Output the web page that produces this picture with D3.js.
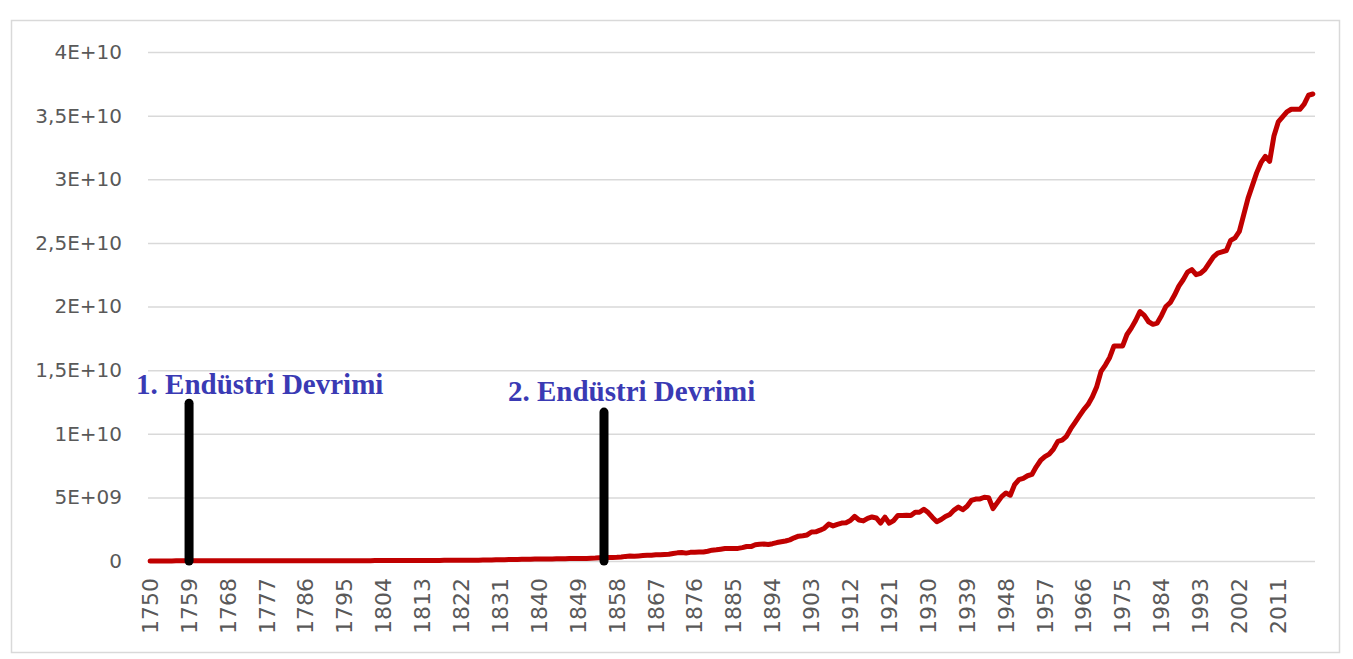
<!DOCTYPE html>
<html>
<head>
<meta charset="utf-8">
<script src="https://cdn.jsdelivr.net/npm/d3@7"></script>
<style>
    body { margin: 0; background: #fff; }
    .tick-label { font-family: "DejaVu Sans", sans-serif; fill: #595959; }
    .note { font-family: "Liberation Serif", "Times New Roman", serif; font-weight: bold; fill: #3a3ab4; }
</style>
</head>
<body>
<div id="chart"></div>
<script>

// yearly CO2 emissions, billion tonnes
let years = d3.range(1750, 2020);

let emissions = [
    0.009, 0.009, 0.009, 0.009, 0.009, 0.009, 0.010, 0.010, 0.010, 0.010,   // 1750
    0.010, 0.010, 0.010, 0.011, 0.011, 0.011, 0.011, 0.012, 0.012, 0.012,   // 1760
    0.013, 0.013, 0.013, 0.014, 0.014, 0.015, 0.015, 0.015, 0.016, 0.016,   // 1770
    0.017, 0.017, 0.018, 0.018, 0.018, 0.019, 0.019, 0.020, 0.020, 0.021,   // 1780
    0.021, 0.022, 0.022, 0.023, 0.023, 0.024, 0.025, 0.025, 0.026, 0.027,   // 1790
    0.028, 0.029, 0.030, 0.031, 0.032, 0.033, 0.034, 0.035, 0.036, 0.037,   // 1800
    0.038, 0.039, 0.040, 0.042, 0.043, 0.045, 0.047, 0.049, 0.051, 0.053,   // 1810
    0.055, 0.057, 0.059, 0.061, 0.063, 0.066, 0.068, 0.070, 0.072, 0.075,   // 1820
    0.100, 0.102, 0.106, 0.110, 0.115, 0.120, 0.128, 0.135, 0.142, 0.148,   // 1830
    0.150, 0.155, 0.158, 0.162, 0.170, 0.178, 0.183, 0.190, 0.196, 0.200,   // 1840
    0.197, 0.205, 0.220, 0.232, 0.255, 0.262, 0.280, 0.282, 0.290, 0.318,   // 1850
    0.362, 0.385, 0.380, 0.402, 0.425, 0.450, 0.458, 0.488, 0.500, 0.520,   // 1860
    0.530, 0.590, 0.640, 0.670, 0.620, 0.680, 0.690, 0.700, 0.710, 0.770,   // 1870
    0.850, 0.880, 0.930, 0.980, 0.990, 0.980, 0.990, 1.050, 1.140, 1.130,   // 1880
    1.280, 1.320, 1.330, 1.300, 1.360, 1.450, 1.510, 1.570, 1.660, 1.820,   // 1890
    1.950, 1.990, 2.050, 2.280, 2.290, 2.420, 2.580, 2.900, 2.760, 2.880,   // 1900
    2.980, 3.010, 3.180, 3.510, 3.220, 3.150, 3.350, 3.460, 3.380, 2.980,   // 1910
    3.450, 2.970, 3.180, 3.580, 3.570, 3.600, 3.580, 3.830, 3.830, 4.070,   // 1920
    3.810, 3.420, 3.090, 3.260, 3.500, 3.660, 4.000, 4.240, 4.030, 4.300,   // 1930
    4.760, 4.870, 4.880, 5.010, 4.980, 4.120, 4.590, 5.060, 5.350, 5.170,   // 1940
    6.000, 6.400, 6.500, 6.700, 6.800, 7.400, 7.900, 8.200, 8.400, 8.800,   // 1950
    9.400, 9.500, 9.800, 10.40, 10.90, 11.40, 11.90, 12.30, 12.90, 13.70,   // 1960
    14.90, 15.40, 16.00, 16.90, 16.90, 16.90, 17.80, 18.30, 18.90, 19.60,   // 1970
    19.30, 18.80, 18.60, 18.70, 19.30, 20.00, 20.30, 20.90, 21.60, 22.10,   // 1980
    22.70, 22.90, 22.50, 22.60, 22.90, 23.40, 23.90, 24.20, 24.30, 24.40,   // 1990
    25.20, 25.40, 25.90, 27.20, 28.50, 29.50, 30.50, 31.30, 31.80, 31.40,   // 2000
    33.40, 34.50, 34.90, 35.30, 35.50, 35.50, 35.50, 35.90, 36.60, 36.70    // 2010
];

let yTicks = [0, 5e9, 1e10, 1.5e10, 2e10, 2.5e10, 3e10, 3.5e10, 4e10];
let yTickLabels = ["0", "5E+09", "1E+10", "1,5E+10", "2E+10", "2,5E+10", "3E+10", "3,5E+10", "4E+10"];

// industrial revolution markers
let noteYears = [1759, 1855];
let noteValues = [12.4e9, 11.7e9];
let noteLabels = ["1. Endüstri Devrimi", "2. Endüstri Devrimi"];


class LineChart {

    constructor(parentElement){
        this.parentElement = parentElement;
        this.initVis();
    }

    initVis(){
        let vis = this;

        vis.width = 1353;
        vis.height = 659;
        vis.plot = {left: 148, right: 1315, top: 52, bottom: 561};

        vis.svg = d3.select("#" + vis.parentElement).append("svg")
            .attr("width", vis.width)
            .attr("height", vis.height);

        // outer frame
        vis.svg.append("rect")
            .attr("x", 11.5)
            .attr("y", 20.5)
            .attr("width", 1328)
            .attr("height", 632)
            .attr("fill", "white")
            .attr("stroke", "#d9d9d9")
            .attr("stroke-width", 1.5);

        vis.x = d3.scaleBand()
            .domain(years)
            .range([vis.plot.left, vis.plot.right]);

        vis.y = d3.scaleLinear()
            .domain([0, 4e10])
            .range([vis.plot.bottom, vis.plot.top]);

        vis.wrangleData();
    }

    wrangleData(){
        let vis = this;
        vis.displayData = years.map((yr, i) => ({year: yr, value: emissions[i] * 1e9}));
        vis.notes = noteYears.map((yr, i) => ({year: yr, value: noteValues[i], label: noteLabels[i]}));
        vis.updateVis();
    }

    updateVis(){
        let vis = this;
        let half = vis.x.bandwidth() / 2;

        // horizontal gridlines + y labels
        let yAxis = d3.axisLeft(vis.y)
            .tickValues(yTicks)
            .tickFormat((d, i) => yTickLabels[i])
            .tickSize(-(vis.plot.right - vis.plot.left))
            .tickPadding(26);

        let gy = vis.svg.append("g")
            .attr("transform", "translate(" + vis.plot.left + ",0)")
            .call(yAxis);
        gy.select(".domain").remove();
        gy.selectAll("line").attr("stroke", "#d9d9d9").attr("stroke-width", 1.5);
        gy.selectAll("text")
            .attr("class", "tick-label")
            .style("font-size", "20px");

        // x labels every 9 years, rotated
        let xAxis = d3.axisBottom(vis.x)
            .tickValues(years.filter((d, i) => i % 9 == 0))
            .tickSize(0)
            .tickPadding(0);

        let gx = vis.svg.append("g")
            .attr("transform", "translate(0," + vis.plot.bottom + ")")
            .call(xAxis);
        gx.select(".domain").remove();
        gx.selectAll("text")
            .attr("class", "tick-label")
            .style("font-size", "22px")
            .attr("text-anchor", "end")
            .attr("dy", "0.35em")
            .attr("transform", "translate(0,17) rotate(-90)");

        // emissions line
        let line = d3.line()
            .x(d => vis.x(d.year) + half)
            .y(d => vis.y(d.value));

        vis.svg.append("path")
            .datum(vis.displayData)
            .attr("d", line)
            .attr("fill", "none")
            .attr("stroke", "#c00000")
            .attr("stroke-width", 5)
            .attr("stroke-linejoin", "round")
            .attr("stroke-linecap", "round");

        // marker bars
        vis.svg.selectAll(".note-bar").data(vis.notes)
            .enter()
            .append("line")
            .attr("class", "note-bar")
            .attr("x1", d => vis.x(d.year) + half)
            .attr("x2", d => vis.x(d.year) + half)
            .attr("y1", vis.y(0))
            .attr("y2", d => vis.y(d.value))
            .attr("stroke", "black")
            .attr("stroke-width", 9)
            .attr("stroke-linecap", "round");

        let labelShift = [-53, -96];
        let labelLift = [9, 11];
        vis.svg.selectAll(".note").data(vis.notes)
            .enter()
            .append("text")
            .attr("class", "note")
            .attr("x", (d, i) => vis.x(d.year) + half + labelShift[i])
            .attr("y", (d, i) => vis.y(d.value) - labelLift[i])
            .style("font-size", "29px")
            .text(d => d.label);
    }
}

new LineChart("chart");
</script>
</body>
</html>
